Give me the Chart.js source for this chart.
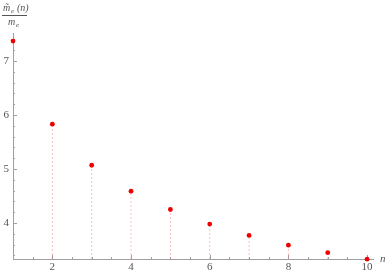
<!DOCTYPE html>
<html>
<head>
<meta charset="utf-8">
<script src="https://cdn.jsdelivr.net/npm/chart.js@4"></script>
<style>
  html, body { margin: 0; padding: 0; background: #fff; }
  #wrap { width: 388px; height: 274px; }
</style>
</head>
<body>
<div id="wrap"><canvas id="massChart"></canvas></div>
<script>
const nValues = [1, 2, 3, 4, 5, 6, 7, 8, 9, 10];
const massRatio = [7.37, 5.83, 5.07, 4.59, 4.25, 3.98, 3.77, 3.59, 3.45, 3.33];
const xTickLabels = [2, 4, 6, 8, 10];
const yTickLabels = [4, 5, 6, 7];

const yMin = 3.333, yMax = 7.52;
const axisColor = '#a0a0a0';
const serif = "'Liberation Serif', 'DejaVu Serif', serif";

// dashed drop lines from each point down to the axis, null breaks the line
const stems = [];
nValues.forEach((n, i) => {
    stems.push({ x: n, y: yMin }, { x: n, y: massRatio[i] }, { x: n, y: null });
});

// inward minor/major ticks + axis labels, drawn like Mathematica does
const axisExtras = {
    id: 'axisExtras',
    beforeDatasetsDraw(chart) {
        const { ctx, chartArea: a, scales: { x, y } } = chart;
        ctx.save();
        ctx.strokeStyle = axisColor;
        ctx.lineWidth = 1;
        ctx.beginPath();
        for (let k = 3; k <= 20; k++) {
            const v = k / 2;
            const px = Math.round(x.getPixelForValue(v)) + 0.5;
            const len = (k % 4 === 0) ? 4 : 2;
            ctx.moveTo(px, a.bottom);
            ctx.lineTo(px, a.bottom - len);
        }
        for (let k = 17; k <= 37; k++) {
            const v = k / 5;
            const py = Math.round(y.getPixelForValue(v)) + 0.5;
            const len = (k % 5 === 0) ? 4 : 2;
            ctx.moveTo(a.left, py);
            ctx.lineTo(a.left + len, py);
        }
        ctx.stroke();
        ctx.restore();
    },
    afterDraw(chart) {
        const { ctx, chartArea: a } = chart;
        ctx.save();
        ctx.fillStyle = '#555';
        ctx.textBaseline = 'alphabetic';
        // x axis label
        ctx.font = 'italic 11px ' + serif;
        ctx.fillText('n', a.right + 7, a.bottom + 3);
        // y axis label as a fraction
        ctx.font = 'italic 10px ' + serif;
        ctx.fillText('m\u0303', 3, 11);
        ctx.font = 'italic 7px ' + serif;
        ctx.fillText('e', 11, 13);
        ctx.font = 'italic 10px ' + serif;
        ctx.fillText('(n)', 17, 11);
        ctx.strokeStyle = '#555';
        ctx.beginPath();
        ctx.moveTo(2, 15.5);
        ctx.lineTo(27, 15.5);
        ctx.stroke();
        ctx.fillText('m', 8, 25);
        ctx.font = 'italic 7px ' + serif;
        ctx.fillText('e', 16, 27);
        ctx.restore();
    }
};

new Chart(document.getElementById('massChart').getContext('2d'), {
    type: 'scatter',
    data: {
        datasets: [{
            label: 'mass ratio',
            data: nValues.map((n, i) => ({ x: n, y: massRatio[i] })),
            backgroundColor: '#ee0000',
            borderColor: '#ee0000',
            pointRadius: 2.4,
            borderWidth: 0,
            clip: false,
            order: 1
        }, {
            label: 'stems',
            type: 'line',
            data: stems,
            borderColor: 'rgba(255, 120, 120, 0.5)',
            borderWidth: 1,
            borderDash: [2, 2],
            pointRadius: 0,
            spanGaps: false,
            order: 2
        }]
    },
    options: {
        responsive: true,
        maintainAspectRatio: false,
        animation: false,
        layout: { padding: { top: 33, right: 15, left: 0, bottom: 0 } },
        plugins: { legend: { display: false }, tooltip: { enabled: false } },
        scales: {
            x: {
                type: 'linear',
                min: 1,
                max: 10.15,
                grid: { display: false, drawTicks: false, tickLength: 0 },
                border: { display: true, color: axisColor, width: 1 },
                ticks: { color: '#555', padding: 2, font: { family: serif, size: 11 } },
                afterBuildTicks: s => { s.ticks = xTickLabels.map(v => ({ value: v })); },
                afterFit: s => { s.height = 15; }
            },
            y: {
                type: 'linear',
                min: yMin,
                max: yMax,
                grid: { display: false, drawTicks: false, tickLength: 0 },
                border: { display: true, color: axisColor, width: 1 },
                ticks: { color: '#555', padding: 4, font: { family: serif, size: 11 } },
                afterBuildTicks: s => { s.ticks = yTickLabels.map(v => ({ value: v })); },
                afterFit: s => { s.width = 13; }
            }
        }
    },
    plugins: [axisExtras]
});
</script>
</body>
</html>
